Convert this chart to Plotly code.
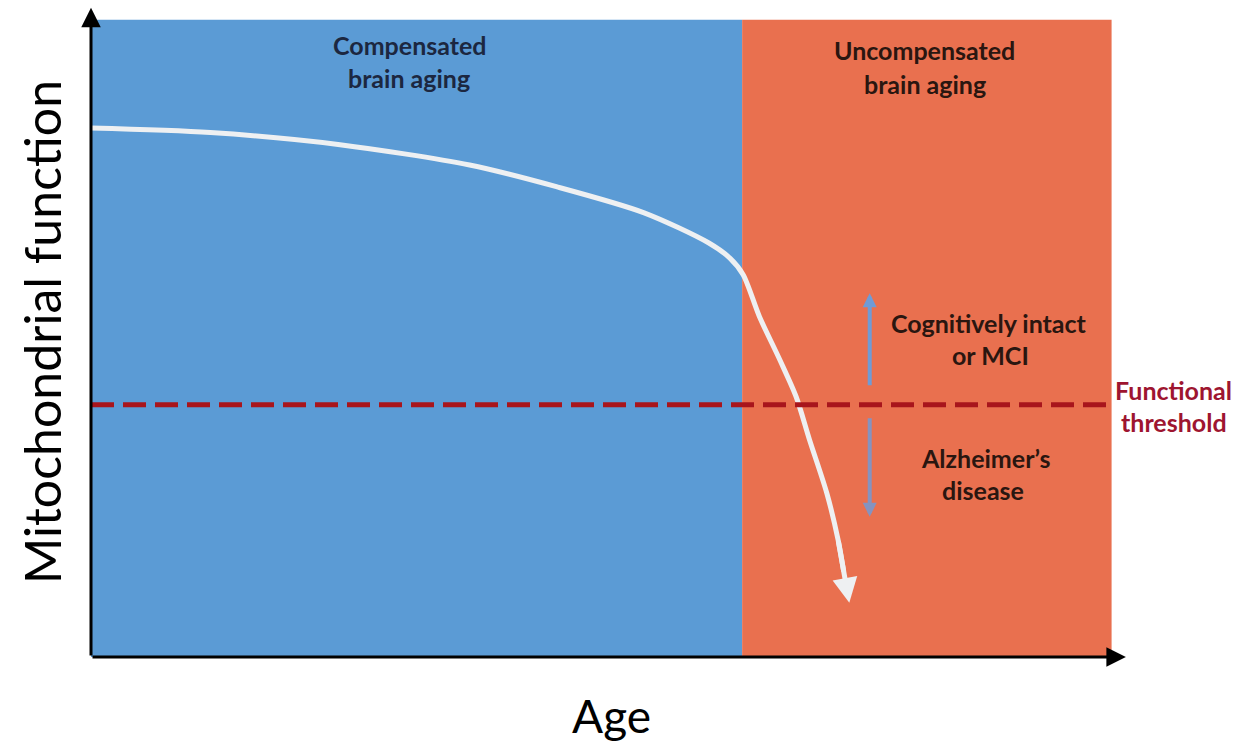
import plotly.graph_objects as go

# ---- data (diagram coordinates: x 0-100 = age span, y 0-100 = function) ----
curve_x = [0, 11.7, 24.4, 37.1, 45.6, 54.2, 60.5, 62.6, 63.9, 65.5, 67.5, 69.1, 70.4, 72.1, 73.2, 74.3]
curve_y = [83.0, 82.3, 80.4, 77.2, 73.8, 69.7, 65.0, 62.6, 60.0, 53.4, 46.6, 40.8, 34.1, 25.7, 18.4, 8.5]
threshold_y = 39.6
phase_bounds = [0, 63.8, 100]
phase_colors = ["#5B9BD5", "#E9704F"]
phase_labels = [["Compensated", "brain aging"], ["Uncompensated", "brain aging"]]
phase_label_x = [31.2, 81.7]
phase_label_y = [[96.1, 90.8], [95.3, 89.9]]
side_arrow_x = 76.3
upper_arrow = [42.4, 57.1]
lower_arrow = [37.7, 22.0]

fig = go.Figure()

shapes = []
for i, c in enumerate(phase_colors):
    shapes.append(dict(type="rect", xref="x", yref="y", x0=phase_bounds[i], x1=phase_bounds[i + 1],
                       y0=0, y1=100, fillcolor=c, line=dict(width=0), layer="below"))
shapes.append(dict(type="line", xref="x", yref="y", x0=0, x1=100, y0=threshold_y, y1=threshold_y,
                   line=dict(color="#A8151C", width=5, dash="23px,9px"), layer="above"))

# line stops halfway along the final segment; the arrowhead annotation finishes it
mid_x = (curve_x[-2] + curve_x[-1]) / 2
mid_y = (curve_y[-2] + curve_y[-1]) / 2
fig.add_trace(go.Scatter(x=curve_x[:-1] + [mid_x], y=curve_y[:-1] + [mid_y], mode="lines",
                         line=dict(color="#EEF0F2", width=5, shape="spline", smoothing=0.8),
                         hoverinfo="skip", showlegend=False))

ann = []
ann.append(dict(x=curve_x[-1], y=curve_y[-1], ax=curve_x[-2], ay=curve_y[-2], xref="x", yref="y",
                axref="x", ayref="y", showarrow=True, arrowhead=2, arrowsize=1.0, arrowwidth=5,
                arrowcolor="#EEF0F2", text=""))
ann.append(dict(x=101.4, y=0, ax=0, ay=0, xref="x", yref="y", axref="x", ayref="y", showarrow=True,
                arrowhead=2, arrowsize=1.3, arrowwidth=3, arrowcolor="black", text=""))
ann.append(dict(x=0, y=101.9, ax=0, ay=0, xref="x", yref="y", axref="x", ayref="y", showarrow=True,
                arrowhead=2, arrowsize=1.3, arrowwidth=3, arrowcolor="black", text=""))
ann.append(dict(x=side_arrow_x, y=upper_arrow[1], ax=side_arrow_x, ay=upper_arrow[0], xref="x", yref="y",
                axref="x", ayref="y", showarrow=True, arrowhead=2, arrowsize=0.7, arrowwidth=4,
                arrowcolor="#6F9BD6", text=""))
ann.append(dict(x=side_arrow_x, y=lower_arrow[1], ax=side_arrow_x, ay=lower_arrow[0], xref="x", yref="y",
                axref="x", ayref="y", showarrow=True, arrowhead=2, arrowsize=0.7, arrowwidth=4,
                arrowcolor="#8593C0", text=""))

blue_font = dict(family="Lato", size=25, color="#1C2740")
orange_font = dict(family="Lato", size=25, color="#2A1610")
for lx, lines, ly, f in zip(phase_label_x, phase_labels, phase_label_y, [blue_font, orange_font]):
    for t, yy in zip(lines, ly):
        ann.append(dict(x=lx, y=yy, xref="x", yref="y", text="<b>%s</b>" % t, showarrow=False, font=f))
for t, xx, yy in zip(["Cognitively intact", "or MCI"], [88.0, 88.1], [52.4, 47.4]):
    ann.append(dict(x=xx, y=yy, xref="x", yref="y", text="<b>%s</b>" % t, showarrow=False, font=orange_font))
for t, xx, yy in zip(["Alzheimer\u2019s", "disease"], [87.6, 87.4], [31.2, 26.2]):
    ann.append(dict(x=xx, y=yy, xref="x", yref="y", text="<b>%s</b>" % t, showarrow=False, font=orange_font))
for t, yy in zip(["Functional", "threshold"], [41.9, 36.9]):
    ann.append(dict(x=1.040, y=yy, xref="paper", yref="y", text="<b>%s</b>" % t, showarrow=False,
                    font=dict(family="Lato", size=25, color="#9E1530"), xanchor="center"))

fig.update_layout(
    width=1252, height=753,
    margin=dict(l=91, r=120, t=7, b=96),
    paper_bgcolor="white", plot_bgcolor="white",
    xaxis=dict(range=[0, 102], showgrid=False, zeroline=False, showticklabels=False, ticks="",
               automargin=False,
               title=dict(text="Age", font=dict(family="Lato", size=46, color="black"), standoff=43)),
    yaxis=dict(range=[0, 102], showgrid=False, zeroline=False, showticklabels=False, ticks="",
               automargin=False,
               title=dict(text="Mitochondrial function", font=dict(family="Lato", size=50, color="black"),
                          standoff=12)),
    shapes=shapes, annotations=ann,
)
fig.write_html("out.html", config={"displayModeBar": False},
               post_script="document.body.style.margin='0px';")
